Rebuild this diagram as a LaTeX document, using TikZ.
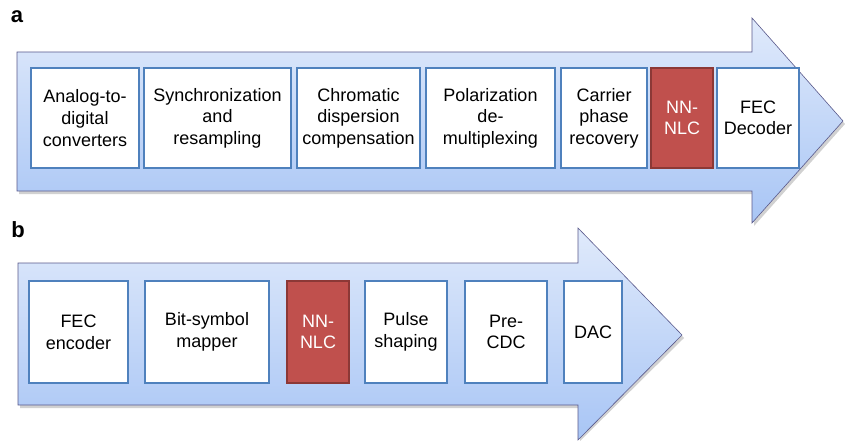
\documentclass[tikz,border=0pt]{standalone}
\usepackage{fontspec}
\setmainfont{Liberation Sans}
\begin{document}
\begin{tikzpicture}[x=1pt,y=-1pt,
  flow/.style={draw=black!35!blue!30!gray, line width=0.6pt, top color=arrowtop, bottom color=arrowbot},
  shadowpath/.style={fill=black, opacity=0.18},
  box/.style={draw=boxblue, line width=1.4pt, fill=white, inner sep=0pt, align=center,
    font=\fontsize{18}{21.6}\selectfont},
  nlc/.style={box, draw=nlcborder, fill=nlcred, text=white},
  panel/.style={font=\fontsize{22}{24}\selectfont\bfseries}]
\definecolor{arrowtop}{RGB}{224,234,251}
\definecolor{arrowbot}{RGB}{168,197,245}
\definecolor{boxblue}{RGB}{79,129,189}
\definecolor{nlcred}{RGB}{192,80,77}
\definecolor{nlcborder}{RGB}{140,56,54}
\useasboundingbox (0,0) rectangle (845,441);
% panel a arrow
\fill[shadowpath] (19,55) -- (754,55) -- (754,21) -- (845,124) -- (754,226) -- (754,194) -- (19,194) -- cycle;
\path[flow] (17,52) -- (752,52) -- (752,18) -- (843,121) -- (752,223) -- (752,191) -- (17,191) -- cycle;
% panel b arrow
\fill[shadowpath] (20,266) -- (580,266) -- (580,231) -- (684,338) -- (580,441) -- (580,408) -- (20,408) -- cycle;
\path[flow] (18,263) -- (578,263) -- (578,228) -- (682,335) -- (578,440) -- (578,405) -- (18,405) -- cycle;
% labels
\node[panel] (la) at (17,17) {a};
\node[panel] (lb) at (18,230) {b};
% boxes a
\node[box, minimum width=108, minimum height=100] (a1) at (85,118) {Analog-to-\\digital\\converters};
\node[box, minimum width=147, minimum height=100] (a2) at (217.5,118) {Synchronization\\and\\resampling};
\node[box, minimum width=123, minimum height=100] (a3) at (358.5,118) {Chromatic\\dispersion\\compensation};
\node[box, minimum width=129, minimum height=100] (a4) at (490.5,118) {Polarization\\de-\\multiplexing};
\node[box, minimum width=86, minimum height=100] (a5) at (604,118) {Carrier\\phase\\recovery};
\node[nlc, minimum width=62, minimum height=100] (a6) at (682,118) {NN-\\NLC};
\node[box, minimum width=82, minimum height=100] (a7) at (758,118) {FEC\\Decoder};
% boxes b
\node[box, minimum width=99, minimum height=102] (b1) at (78.5,332) {FEC\\encoder};
\node[box, minimum width=124, minimum height=102] (b2) at (207,332) {Bit-symbol\\mapper};
\node[nlc, minimum width=62, minimum height=102] (b3) at (318,332) {NN-\\NLC};
\node[box, minimum width=82, minimum height=102] (b4) at (406,332) {Pulse\\shaping};
\node[box, minimum width=82, minimum height=102] (b5) at (506,332) {Pre-\\CDC};
\node[box, minimum width=58, minimum height=102] (b6) at (593,332) {DAC};
\end{tikzpicture}
\end{document}
